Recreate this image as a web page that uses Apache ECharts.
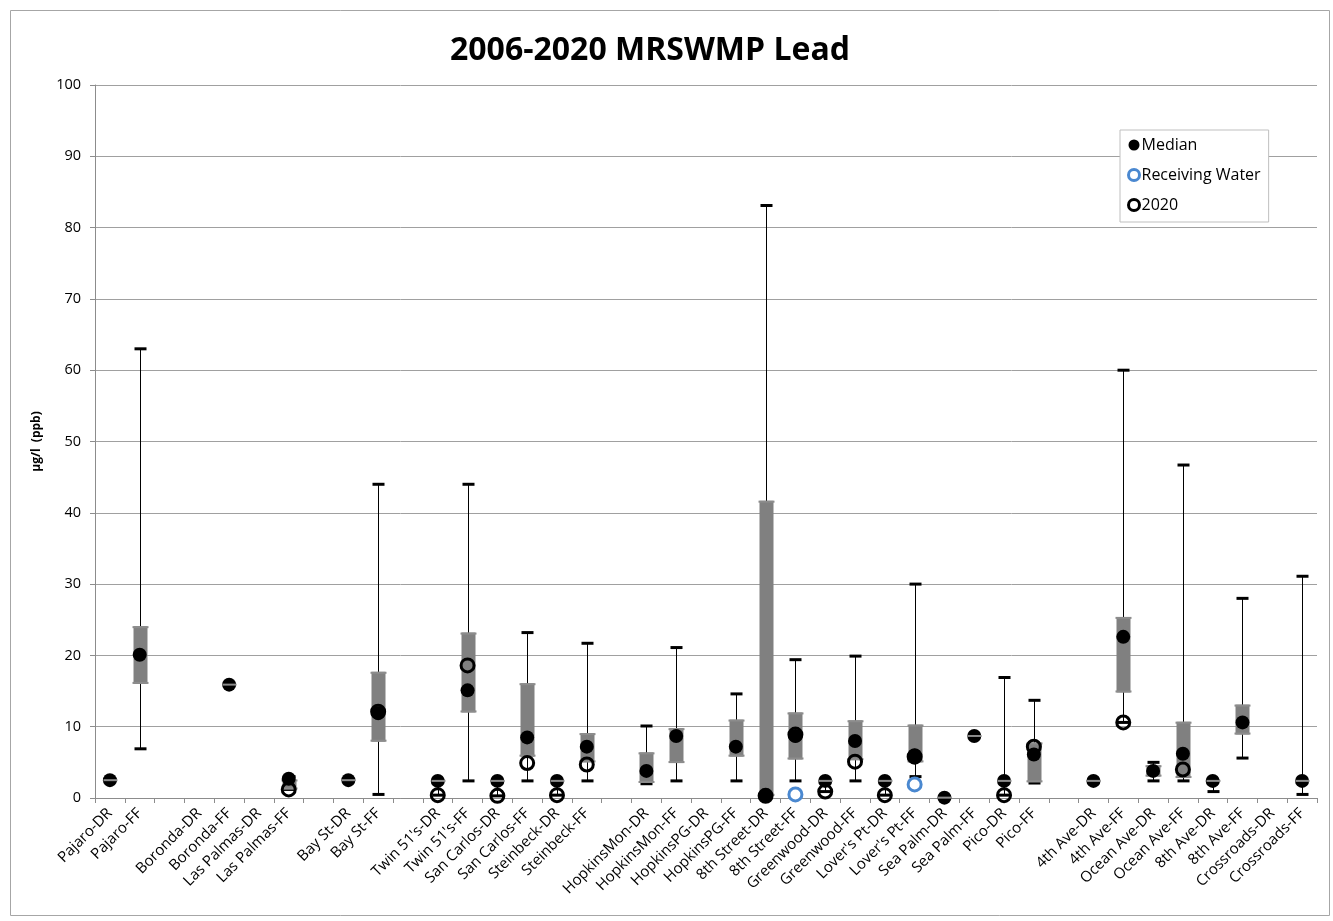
<!DOCTYPE html>
<html>
<head>
<meta charset="utf-8">
<script src="https://cdn.jsdelivr.net/npm/echarts@6/dist/echarts.min.js"></script>
<style>
html,body{margin:0;padding:0;background:#fff;}
#chart{width:1333px;height:921px;}
</style>
</head>
<body>
<div id="chart"></div>
<script>
var categories = ["Pajaro-DR","Pajaro-FF","","Boronda-DR","Boronda-FF","Las Palmas-DR","Las Palmas-FF","","Bay St-DR","Bay St-FF","","Twin 51's-DR","Twin 51's-FF","San Carlos-DR","San Carlos-FF","Steinbeck-DR","Steinbeck-FF","","HopkinsMon-DR","HopkinsMon-FF","HopkinsPG-DR","HopkinsPG-FF","8th Street-DR","8th Street-FF","Greenwood-DR","Greenwood-FF","Lover's Pt-DR","Lover's Pt-FF","Sea Palm-DR","Sea Palm-FF","Pico-DR","Pico-FF","","4th Ave-DR","4th Ave-FF","Ocean Ave-DR","Ocean Ave-FF","8th Ave-DR","8th Ave-FF","Crossroads-DR","Crossroads-FF"];
var minVals    = [2.5, 6.9, null,null,15.9,null,1.2, null,2.5, 0.5, null,0.4, 2.4, 0.3, 2.4, 0.4, 2.4, null,2.0, 2.4, null,2.4, 0.2, 2.4, 0.9, 2.4, 0.4, 3.0, 0.05,8.7, 0.4, 2.1, null,2.4, 10.6,2.4, 2.4, 0.9, 5.6, null,0.5];
var q1Vals     = [2.5, 16.0,null,null,15.9,null,1.2, null,2.5, 7.9, null,2.4, 12.0,2.4, 5.8, 2.4, 5.0, null,2.1, 4.9, null,5.8, 0.3, 5.4, 2.4, 5.3, 2.4, 5.0, 0.05,8.7, 2.4, 2.2, null,2.4, 14.8,3.0, 2.8, 2.4, 8.9, null,2.4];
var medianVals = [2.5, 20.1,null,null,15.9,null,2.7, null,2.5, 11.9,null,2.4, 15.1,2.4, 8.5, 2.4, 7.2, null,3.8, 8.7, null,7.2, 0.3, 8.7, 2.4, 8.0, 2.4, 6.0, 0.05,8.7, 2.4, 6.1, null,2.4, 22.6,3.8, 6.2, 2.4, 10.6,null,2.4];
var q3Vals     = [2.5, 24.1,null,null,15.9,null,2.6, null,2.5, 17.7,null,2.4, 23.2,2.4, 16.1,2.4, 9.1, null,6.4, 9.8, null,11.0,41.7,12.0,2.4, 10.9,2.4, 10.3,0.05,8.7, 2.4, 7.8, null,2.4, 25.4,4.6, 10.7,2.4, 13.1,null,2.4];
var maxVals    = [2.5, 63.0,null,null,15.9,null,3.0, null,2.5, 44.0,null,2.4, 44.0,2.4, 23.2,2.4, 21.7,null,10.1,21.1,null,14.6,83.1,19.4,2.4, 19.9,2.4, 30.0,0.05,8.7, 16.9,13.7,null,2.4, 60.0,5.0, 46.7,2.4, 28.0,null,31.1];
var y2020Vals  = [null,null,null,null,null,null,1.2, null,null,12.1,null,0.4, 18.6,0.3, 4.9, 0.4, 4.7, null,null,null,null,null,0.3, 8.9, 0.9, 5.1, 0.4, 5.8, null,null,0.4, 7.2, null,null,10.6,null,4.0, null,null,null,null];
var receivingVals = [null,null,null,null,null,null,null,null,null,null,null,null,null,null,null,null,null,null,null,null,null,null,null,0.5,null,null,null,1.9,null,null,null,null,null,null,null,null,null,null,null,null,null];
var yTicks = [0,10,20,30,40,50,60,70,80,90,100];

var FONT = '"Open Sans", "Liberation Sans", sans-serif';

var boxData = [], medData = [], d2020 = [], recvData = [], flatData = [];
for (var i = 0; i < categories.length; i++) {
  if (minVals[i] !== null) {
    boxData.push([i, minVals[i], q1Vals[i], q3Vals[i], maxVals[i]]);
    if (Math.abs(q3Vals[i] - q1Vals[i]) < 0.05) flatData.push([i, q1Vals[i]]);
  }
  if (medianVals[i] !== null) medData.push([i, medianVals[i]]);
  if (y2020Vals[i] !== null) d2020.push([i, y2020Vals[i]]);
  if (receivingVals[i] !== null) recvData.push([i, receivingVals[i]]);
}

var chart = echarts.init(document.getElementById('chart'), null, {renderer: 'canvas'});
var option = {
  backgroundColor: '#fff',
  animation: false,
  title: {
    text: '2006-2020 MRSWMP Lead',
    left: 445, top: 30,
    textStyle: {fontFamily: FONT, fontWeight: 'bold', fontSize: 32, color: '#000'}
  },
  graphic: [{
    type: 'rect', left: 8, top: 8, shape: {width: 1319, height: 905},
    style: {fill: 'none', stroke: '#a6a6a6', lineWidth: 1}, silent: true, z: -10
  }],
  legend: {
    orient: 'vertical', left: 1120, top: 130,
    padding: [7, 8, 9, 7], itemGap: 14,
    borderColor: '#bfbfbf', borderWidth: 1, backgroundColor: '#fff',
    itemWidth: 11, itemHeight: 11,
    textStyle: {fontFamily: FONT, fontSize: 16, color: '#000', padding: [0,0,0,-3]},
    data: [
      {name: 'Median', icon: 'circle', itemStyle: {color: '#000', borderWidth: 0}},
      {name: 'Receiving Water', icon: 'circle', itemStyle: {color: '#fff', borderColor: '#4a88d0', borderWidth: 3}},
      {name: '2020', icon: 'circle', itemStyle: {color: '#fff', borderColor: '#000', borderWidth: 3}}
    ]
  },
  grid: {left: 95, right: 16, top: 85, bottom: 123},
  xAxis: {
    type: 'category', data: categories, boundaryGap: true,
    axisLine: {lineStyle: {color: '#8c8c8c', width: 1}},
    axisTick: {show: true, length: 5, interval: 0, lineStyle: {color: '#8c8c8c'}},
    axisLabel: {interval: 0, rotate: 45, fontFamily: FONT, fontSize: 15, color: '#000', margin: 13},
    splitLine: {show: false}
  },
  yAxis: {
    type: 'value', min: 0, max: 100, interval: 10,
    name: 'µg/l  (ppb)', nameLocation: 'middle', nameGap: 52, nameRotate: 90,
    nameTextStyle: {fontFamily: FONT, fontWeight: 'bold', fontSize: 12, color: '#000'},
    axisLine: {show: true, lineStyle: {color: '#8c8c8c'}},
    axisTick: {show: true, length: 5, lineStyle: {color: '#8c8c8c'}},
    axisLabel: {fontFamily: FONT, fontSize: 14.5, color: '#000', margin: 14,
      formatter: function(v){ return yTicks.indexOf(v) >= 0 ? String(v) : ''; }},
    splitLine: {show: true, lineStyle: {color: '#a0a0a0', width: 1}}
  },
  series: [
    {
      name: 'range', type: 'custom', z: 2, silent: true,
      data: boxData,
      encode: {x: 0, y: [1, 2, 3, 4]},
      renderItem: function(params, api) {
        var idx = api.value(0);
        var pMin = api.coord([idx, api.value(1)]);
        var pQ1 = api.coord([idx, api.value(2)]);
        var pQ3 = api.coord([idx, api.value(3)]);
        var pMax = api.coord([idx, api.value(4)]);
        var x = Math.round(pMin[0]) + 0.5;
        var capW = 12, boxW = 14;
        var children = [
          {type: 'line', shape: {x1: x, y1: pMin[1], x2: x, y2: pMax[1]}, style: {stroke: '#000', lineWidth: 1}},
          {type: 'rect', shape: {x: x - capW/2, y: pMax[1] - 1.5, width: capW, height: 3}, style: {fill: '#000'}},
          {type: 'rect', shape: {x: x - capW/2, y: pMin[1] - 1.5, width: capW, height: 3}, style: {fill: '#000'}}
        ];
        var h = pQ1[1] - pQ3[1];
        if (h > 1) {
          children.push({type: 'rect', shape: {x: x - boxW/2, y: pQ3[1], width: boxW, height: h}, style: {fill: '#808080'}});
          children.push({type: 'rect', shape: {x: x - boxW/2 - 1, y: pQ3[1], width: boxW + 2, height: 2}, style: {fill: '#8c8c8c'}});
          children.push({type: 'rect', shape: {x: x - boxW/2 - 1, y: pQ1[1] - 2, width: boxW + 2, height: 2}, style: {fill: '#8c8c8c'}});
        }
        return {type: 'group', children: children};
      }
    },
    {
      name: 'Median', type: 'scatter', z: 3, symbol: 'circle', symbolSize: 14,
      data: medData, itemStyle: {color: '#000', opacity: 1}, silent: true
    },
    {
      name: '2020', type: 'scatter', z: 4, symbol: 'circle', symbolSize: 13,
      data: d2020, itemStyle: {color: 'rgba(0,0,0,0)', borderColor: '#000', borderWidth: 3, opacity: 1}, silent: true
    },
    {
      name: 'Receiving Water', type: 'scatter', z: 5, symbol: 'circle', symbolSize: 13,
      data: recvData, itemStyle: {color: '#fff', borderColor: '#4a88d0', borderWidth: 3, opacity: 1}, silent: true
    },
    {
      name: 'flat', type: 'custom', z: 6, silent: true,
      data: flatData, encode: {x: 0, y: 1},
      renderItem: function(params, api) {
        var p = api.coord([api.value(0), api.value(1)]);
        var x = Math.round(p[0]) + 0.5;
        return {type: 'rect', shape: {x: x - 7, y: p[1] - 1, width: 14, height: 2}, style: {fill: '#8c8c8c'}};
      }
    }
  ]
};
chart.setOption(option);
</script>
</body>
</html>
